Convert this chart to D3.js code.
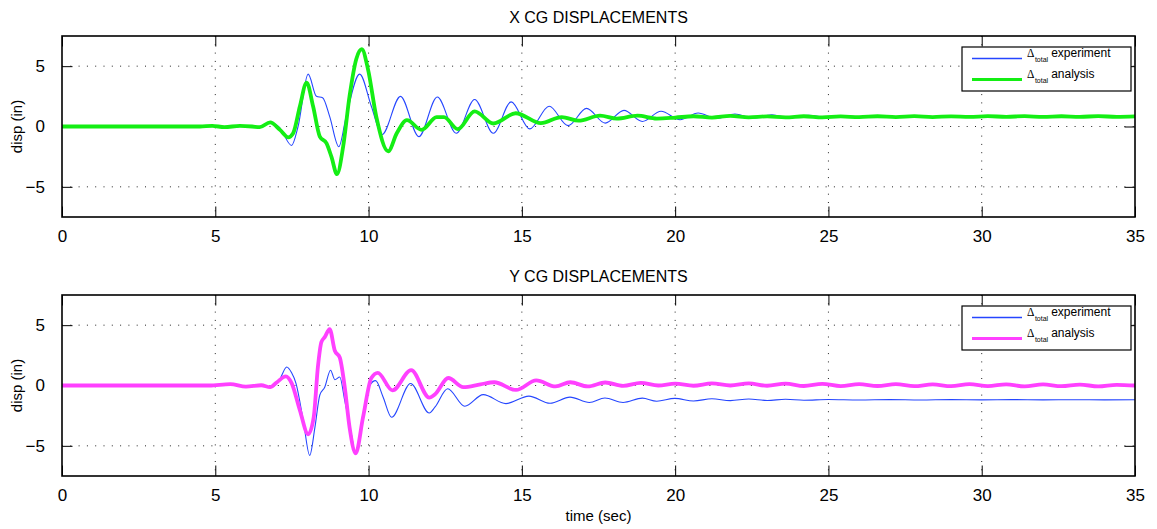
<!DOCTYPE html>
<html>
<head>
<meta charset="utf-8">
<script src="https://cdn.jsdelivr.net/npm/d3@7"></script>
<style>
  html, body { margin: 0; padding: 0; background: #fff; }
  svg { display: block; font-family: "Liberation Sans", Arial, Helvetica, sans-serif; }
</style>
</head>
<body>
<svg id="chart" width="1157" height="529"></svg>
<script>
// ---- data: [time (sec), displacement (in)] ----
const xTicks = [0, 5, 10, 15, 20, 25, 30, 35];
const yTicks = [-5, 0, 5];

const xExperiment = [
  [0, 0], [4.5, 0], [5.0, 0.02], [5.5, -0.06], [6.0, 0.04], [6.4, -0.05], [6.79, 0.3],
  [7.1, -0.1], [7.49, -1.57], [7.7, 0], [8.03, 4.34], [8.3, 2.5], [8.5, 2.38],
  [8.73, 0.84], [9.03, -1.68], [9.27, 0.84], [9.71, 4.34], [10.09, 1.68], [10.44, -0.66],
  [11.04, 2.5], [11.64, -0.84], [12.24, 2.45], [12.86, -0.56], [13.46, 2.24], [14.07, -0.56],
  [14.65, 2.04], [15.26, -0.2], [15.89, 1.68], [16.51, 0.07], [17.11, 1.5], [17.72, 0.28],
  [18.33, 1.34], [18.93, 0.42], [19.54, 1.26], [20.16, 0.56], [20.75, 1.12], [21.35, 0.67],
  [21.95, 1.04], [22.55, 0.7], [23.15, 0.98], [23.75, 0.72], [24.35, 0.92], [24.95, 0.76],
  [25.55, 0.88], [26.15, 0.77], [26.75, 0.86], [27.35, 0.78], [27.95, 0.85], [28.55, 0.79],
  [29.2, 0.84], [29.8, 0.8], [30.4, 0.84], [31.0, 0.8], [31.6, 0.84], [32.2, 0.8],
  [32.8, 0.83], [33.4, 0.8], [34.0, 0.83], [34.6, 0.8], [35.0, 0.82]
];

const xAnalysis = [
  [0, 0], [4.5, 0], [4.9, 0.05], [5.3, -0.05], [5.8, 0.05], [6.2, 0], [6.45, -0.06],
  [6.79, 0.34], [7.11, -0.28], [7.38, -0.9], [7.54, -0.56], [7.76, 1.68], [7.98, 3.64],
  [8.19, 1.68], [8.41, -0.84], [8.63, -1.4], [8.79, -2.52], [8.97, -3.95], [9.17, -1.68],
  [9.38, 2.52], [9.6, 5.6], [9.78, 6.4], [9.98, 4.76], [10.25, 0.84], [10.64, -2.05],
  [10.92, -0.56], [11.25, 0.53], [11.73, -0.28], [12.22, 0.77], [12.46, 0.78], [12.91, -0.21],
  [13.46, 1.26], [14.07, 0.25], [14.8, 1.1], [15.62, 0.28], [16.3, 0.78], [16.85, 0.48],
  [17.55, 0.9], [18.1, 0.65], [18.77, 0.9], [19.4, 0.66], [20.0, 0.74], [20.6, 0.85],
  [21.2, 0.74], [21.8, 0.88], [22.4, 0.76], [23.0, 0.84], [23.6, 0.76], [24.2, 0.85],
  [24.8, 0.76], [25.4, 0.84], [26.0, 0.77], [26.6, 0.85], [27.2, 0.78], [27.8, 0.86],
  [28.4, 0.78], [29.0, 0.84], [29.6, 0.79], [30.2, 0.86], [30.8, 0.8], [31.4, 0.86],
  [32.0, 0.79], [32.6, 0.85], [33.2, 0.8], [33.8, 0.86], [34.4, 0.8], [35.0, 0.84]
];

const yExperiment = [
  [0, 0], [4.8, 0], [5.49, 0.14], [6.0, -0.14], [6.5, 0], [6.84, -0.14], [7.11, 0.54],
  [7.33, 1.53], [7.49, 1.05], [7.63, 0.2], [7.87, -2.9], [8.08, -5.79], [8.25, -3.47],
  [8.41, -0.79], [8.57, -0.14], [8.76, 1.27], [8.9, 0.48], [9.06, 0.7], [9.22, -1.21],
  [9.44, -4.04], [9.57, -5.6], [9.82, -2.34], [10.03, -0.03], [10.23, 0.4], [10.47, -0.93],
  [10.75, -2.63], [11.37, 0.17], [11.98, -2.28], [12.17, -1.78], [12.58, -0.27], [13.14, -1.72],
  [13.74, -0.76], [14.48, -1.5], [15.23, -0.88], [15.92, -1.47], [16.57, -0.96], [17.2, -1.41],
  [17.71, -1.04], [18.3, -1.41], [18.93, -1.05], [19.4, -1.3], [19.99, -1.07], [20.6, -1.28],
  [21.2, -1.1], [21.8, -1.25], [22.4, -1.12], [23.0, -1.24], [23.6, -1.14], [24.2, -1.22],
  [25.0, -1.16], [26.0, -1.2], [27.0, -1.17], [28.0, -1.2], [29.0, -1.17], [30.0, -1.19],
  [31.0, -1.17], [32.0, -1.19], [33.0, -1.18], [34.0, -1.19], [35.0, -1.18]
];

const yAnalysis = [
  [0, 0], [4.8, 0], [5.49, 0.12], [6.0, -0.1], [6.5, 0.02], [6.79, -0.14], [7.0, 0.25],
  [7.3, 0.76], [7.49, 0.2], [7.76, -2.06], [8.03, -4.04], [8.21, -2.63], [8.35, 1.61],
  [8.46, 3.59], [8.57, 4.01], [8.73, 4.66], [8.9, 2.88], [9.06, 2.32], [9.22, -0.08],
  [9.38, -3.47], [9.58, -5.62], [9.82, -2.63], [10.09, 0.62], [10.3, 1.05], [10.78, -0.4],
  [11.39, 1.27], [11.98, -1.0], [12.17, -0.72], [12.6, 0.62], [13.09, -0.14], [13.65, 0.1],
  [14.1, 0.27], [14.81, -0.37], [15.47, 0.42], [16.1, -0.08], [16.58, 0.27], [17.15, -0.08],
  [17.72, 0.25], [18.3, -0.03], [18.88, 0.22], [19.45, 0.0], [20.0, 0.15], [20.6, -0.02],
  [21.2, 0.17], [21.8, 0.0], [22.4, 0.18], [23.0, -0.02], [23.6, 0.16], [24.2, -0.04],
  [24.8, 0.14], [25.4, -0.05], [26.0, 0.12], [26.6, -0.04], [27.2, 0.12], [27.8, -0.06],
  [28.4, 0.1], [29.0, -0.06], [29.6, 0.12], [30.2, -0.05], [30.8, 0.1], [31.4, -0.08],
  [32.0, 0.1], [32.6, -0.06], [33.2, 0.08], [33.8, -0.08], [34.4, 0.06], [35.0, 0.0]
];

const legendLabels = ["experiment", "analysis"];

// ---- layout ----
const svg = d3.select("#chart");
const left = 62, right = 1135;
const x = d3.scaleLinear().domain([0, 35]).range([left, right]);

const panels = [
  { title: "X CG DISPLACEMENTS", top: 36, bottom: 217, exp: xExperiment, ana: xAnalysis,
    anaColor: "#14ee14" },
  { title: "Y CG DISPLACEMENTS", top: 295, bottom: 476, exp: yExperiment, ana: yAnalysis,
    anaColor: "#ff40ff" }
];
const expColor = "#2546ff";

panels.forEach(p => {
  const y = d3.scaleLinear().domain([-7.5, 7.5]).range([p.bottom, p.top]);
  const g = svg.append("g");
  const h = p.bottom - p.top;

  // dotted grid
  const grid = g.append("g").attr("stroke", "#222").attr("stroke-width", 1)
    .attr("stroke-dasharray", "1,7.3");
  grid.selectAll("line.gx").data(xTicks.slice(1, -1)).join("line")
    .attr("x1", d => x(d)).attr("x2", d => x(d))
    .attr("y1", p.top).attr("y2", p.bottom);
  grid.selectAll("line.gy").data(yTicks).join("line")
    .attr("x1", left).attr("x2", right)
    .attr("y1", d => y(d)).attr("y2", d => y(d));

  // inward ticks on all four sides
  const tl = 10.5;
  g.append("g").attr("transform", `translate(0,${p.bottom})`)
    .call(d3.axisBottom(x).tickValues(xTicks).tickSizeInner(-tl).tickSizeOuter(0).tickPadding(13))
    .call(a => a.select(".domain").remove())
    .call(a => a.selectAll("line").attr("stroke", "#000"))
    .call(a => a.selectAll("text").attr("font-size", 17).attr("fill", "#000")
      .attr("font-family", "'Liberation Sans', Arial, sans-serif"));
  g.append("g").attr("transform", `translate(0,${p.top})`)
    .call(d3.axisTop(x).tickValues(xTicks).tickSizeInner(-tl).tickSizeOuter(0).tickFormat(""))
    .call(a => a.select(".domain").remove())
    .call(a => a.selectAll("line").attr("stroke", "#000"));
  g.append("g").attr("transform", `translate(${left},0)`)
    .call(d3.axisLeft(y).tickValues(yTicks).tickSizeInner(-tl).tickSizeOuter(0).tickPadding(17)
      .tickFormat(d => d < 0 ? "\u2212" + Math.abs(d) : String(d)))
    .call(a => a.select(".domain").remove())
    .call(a => a.selectAll("line").attr("stroke", "#000"))
    .call(a => a.selectAll("text").attr("font-size", 17).attr("fill", "#000")
      .attr("font-family", "'Liberation Sans', Arial, sans-serif"));
  g.append("g").attr("transform", `translate(${right},0)`)
    .call(d3.axisRight(y).tickValues(yTicks).tickSizeInner(-tl).tickSizeOuter(0).tickFormat(""))
    .call(a => a.select(".domain").remove())
    .call(a => a.selectAll("line").attr("stroke", "#000"));

  // data lines
  const clipId = "clip" + p.top;
  g.append("clipPath").attr("id", clipId).append("rect")
    .attr("x", left).attr("y", p.top).attr("width", right - left).attr("height", h);
  const line = d3.line().x(d => x(d[0])).y(d => y(d[1])).curve(d3.curveMonotoneX);
  const lines = g.append("g").attr("clip-path", `url(#${clipId})`).attr("fill", "none")
    .attr("stroke-linejoin", "round").attr("stroke-linecap", "round");
  lines.append("path").datum(p.exp).attr("d", line)
    .attr("stroke", expColor).attr("stroke-width", 1.1);
  lines.append("path").datum(p.ana).attr("d", line)
    .attr("stroke", p.anaColor).attr("stroke-width", 3.8);

  // frame
  g.append("rect").attr("x", left).attr("y", p.top).attr("width", right - left).attr("height", h)
    .attr("fill", "none").attr("stroke", "#000").attr("stroke-width", 1.6);

  // title
  g.append("text").attr("x", (left + right) / 2).attr("y", p.top - 13)
    .attr("text-anchor", "middle").attr("font-size", 16).text(p.title);

  // y-axis label
  g.append("text").attr("transform", `translate(22,${(p.top + p.bottom) / 2}) rotate(-90)`)
    .attr("text-anchor", "middle").attr("font-size", 15).text("disp (in)");

  // legend
  const lg = g.append("g").attr("transform", `translate(962,${p.top + 11})`);
  lg.append("rect").attr("width", 169).attr("height", 44)
    .attr("fill", "#fff").attr("stroke", "#000").attr("stroke-width", 1.2);
  const entries = [
    { color: expColor, width: 1.3, label: legendLabels[0] },
    { color: p.anaColor, width: 3.2, label: legendLabels[1] }
  ];
  entries.forEach((e, i) => {
    const cy = 11.5 + i * 21;
    lg.append("line").attr("x1", 10).attr("x2", 60).attr("y1", cy).attr("y2", cy)
      .attr("stroke", e.color).attr("stroke-width", e.width);
    const t = lg.append("text").attr("x", 65).attr("y", cy - 1.5).attr("font-size", 12);
    t.append("tspan").attr("font-family", "'Liberation Serif', 'Times New Roman', serif")
      .attr("font-size", 11.5).text("\u0394");
    t.append("tspan").attr("font-size", 7).attr("dy", 5).attr("dx", 0.5).text("total");
    t.append("tspan").attr("dy", -5).attr("dx", 3).text(e.label);
  });
});

// x-axis label
svg.append("text").attr("x", (left + right) / 2).attr("y", 521)
  .attr("text-anchor", "middle").attr("font-size", 15).text("time (sec)");
</script>
</body>
</html>
